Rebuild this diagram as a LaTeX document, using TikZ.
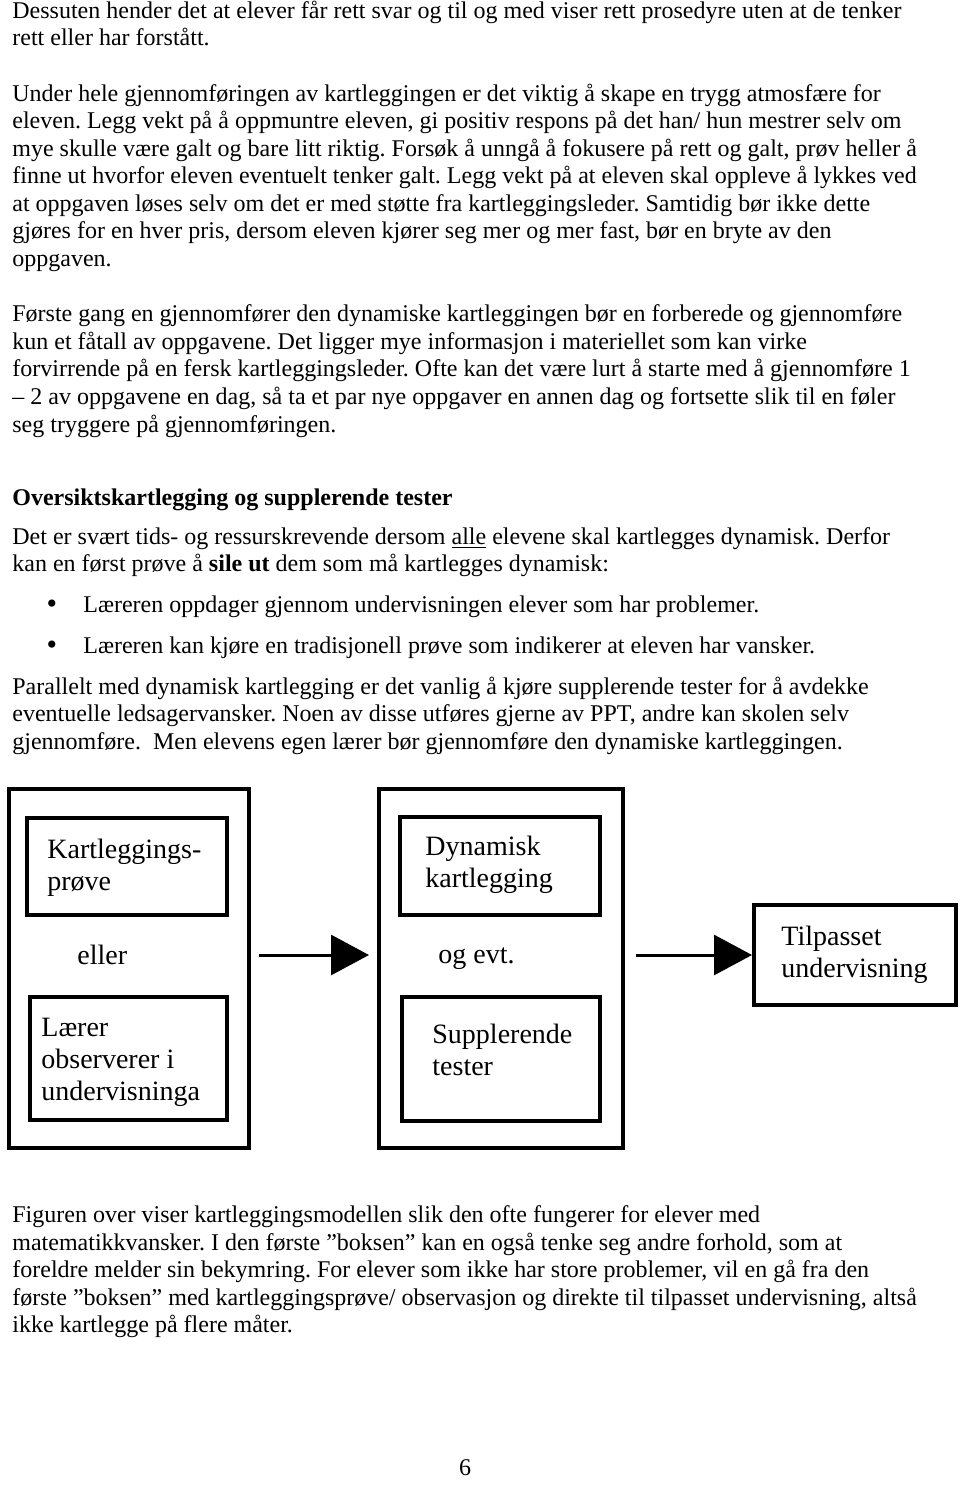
\documentclass[tikz,border=0pt]{standalone}
\usepackage{fontspec}
\setmainfont{Liberation Serif}
\usetikzlibrary{arrows.meta}
\frenchspacing

\begin{document}
\begin{tikzpicture}[x=0.5pt, y=-0.5pt,
  line/.style={anchor=base west, inner sep=0pt, font=\fontsize{12}{13.8}\selectfont},
  dot/.style={anchor=base, inner sep=0pt, font=\fontsize{15}{16}\selectfont},
  box/.style={draw, line width=2pt, inner sep=0pt},
  lbl/.style={anchor=base west, inner sep=0pt, align=left, font=\fontsize{14}{16}\selectfont},
  flow/.style={line width=1.5pt, -{Triangle[length=19pt,width=20pt]}}]
\useasboundingbox (0,0) rectangle (960,1486);
% tekst over figuren
\node[line] (l1) at (12,18.5) {Dessuten hender det at elever får rett svar og til og med viser rett prosedyre uten at de tenker};
\node[line] (l2) at (12,46) {rett eller har forstått.};
\node[line] (l3) at (12,101.5) {Under hele gjennomføringen av kartleggingen er det viktig å skape en trygg atmosfære for};
\node[line] (l4) at (12,129) {eleven. Legg vekt på å oppmuntre eleven, gi positiv respons på det han/ hun mestrer selv om};
\node[line] (l5) at (12,156.5) {mye skulle være galt og bare litt riktig. Forsøk å unngå å fokusere på rett og galt, prøv heller å};
\node[line] (l6) at (12,184) {finne ut hvorfor eleven eventuelt tenker galt. Legg vekt på at eleven skal oppleve å lykkes ved};
\node[line] (l7) at (12,211.5) {at oppgaven løses selv om det er med støtte fra kartleggingsleder. Samtidig bør ikke dette};
\node[line] (l8) at (12,239) {gjøres for en hver pris, dersom eleven kjører seg mer og mer fast, bør en bryte av den};
\node[line] (l9) at (12,266.5) {oppgaven.};
\node[line] (l10) at (12,322) {Første gang en gjennomfører den dynamiske kartleggingen bør en forberede og gjennomføre};
\node[line] (l11) at (12,349.5) {kun et fåtall av oppgavene. Det ligger mye informasjon i materiellet som kan virke};
\node[line] (l12) at (12,377) {forvirrende på en fersk kartleggingsleder. Ofte kan det være lurt å starte med å gjennomføre 1};
\node[line] (l13) at (12,404.5) {– 2 av oppgavene en dag, så ta et par nye oppgaver en annen dag og fortsette slik til en føler};
\node[line] (l14) at (12,432) {seg tryggere på gjennomføringen.};
\node[line, font=\fontsize{12}{13.8}\selectfont\bfseries] (head) at (12,505) {Oversiktskartlegging og supplerende tester};
\node[line] (l15) at (12,544) {Det er svært tids- og ressurskrevende dersom \underline{alle} elevene skal kartlegges dynamisk. Derfor};
\node[line] (l16) at (12,571.5) {kan en først prøve å \textbf{sile ut} dem som må kartlegges dynamisk:};
\node[dot] (d1) at (52,613.5) {•};
\node[line] (b1) at (83,612.5) {Læreren oppdager gjennom undervisningen elever som har problemer.};
\node[dot] (d2) at (52,654.5) {•};
\node[line] (b2) at (83,653.5) {Læreren kan kjøre en tradisjonell prøve som indikerer at eleven har vansker.};
\node[line] (l17) at (12,694) {Parallelt med dynamisk kartlegging er det vanlig å kjøre supplerende tester for å avdekke};
\node[line] (l18) at (12,721.5) {eventuelle ledsagervansker. Noen av disse utføres gjerne av PPT, andre kan skolen selv};
\node[line] (l19) at (12,749) {gjennomføre.\ \ Men elevens egen lærer bør gjennomføre den dynamiske kartleggingen.};
% figuren
\node[box, minimum width=120pt, minimum height=179.5pt] (boksA) at (129,968.5) {};
\node[box, minimum width=122pt, minimum height=179.5pt] (boksB) at (501,968.5) {};
\node[box, minimum width=100pt, minimum height=48.5pt] (prove) at (127,866.5) {};
\node[box, minimum width=98.5pt, minimum height=61.5pt] (laerer) at (128.5,1058.5) {};
\node[box, minimum width=100pt, minimum height=49pt] (dynamisk) at (500,866) {};
\node[box, minimum width=99pt, minimum height=62pt] (suppl) at (501,1059) {};
\node[box, minimum width=101pt, minimum height=50pt] (tilpasset) at (855,955) {};
% base = siste linje
\node[lbl] (t1) at (47,890) {Kartleggings-\\prøve};
\node[lbl] (t2) at (77,964) {eller};
\node[lbl] (t3) at (41,1100) {Lærer\\observerer i\\undervisninga};
\node[lbl] (t4) at (425,887) {Dynamisk\\kartlegging};
\node[lbl] (t5) at (438,963) {og evt.};
\node[lbl] (t6) at (432,1075) {Supplerende\\tester};
\node[lbl] (t7) at (781,977) {Tilpasset\\undervisning};
\draw[flow, shorten <=4pt, shorten >=4pt] (boksA.east |- tilpasset.west) -- (boksB.west |- tilpasset.west);
\draw[flow, shorten <=5.5pt] (boksB.east |- tilpasset.west) -- (tilpasset.west);
% tekst under figuren
\node[line] (l20) at (12,1222.5) {Figuren over viser kartleggingsmodellen slik den ofte fungerer for elever med};
\node[line] (l21) at (12,1250) {matematikkvansker. I den første ”boksen” kan en også tenke seg andre forhold, som at};
\node[line] (l22) at (12,1277.5) {foreldre melder sin bekymring. For elever som ikke har store problemer, vil en gå fra den};
\node[line] (l23) at (12,1305) {første ”boksen” med kartleggingsprøve/ observasjon og direkte til tilpasset undervisning, altså};
\node[line] (l24) at (12,1332.5) {ikke kartlegge på flere måter.};
\node[line, anchor=base] (side) at (465,1475) {6};
\end{tikzpicture}
\end{document}
